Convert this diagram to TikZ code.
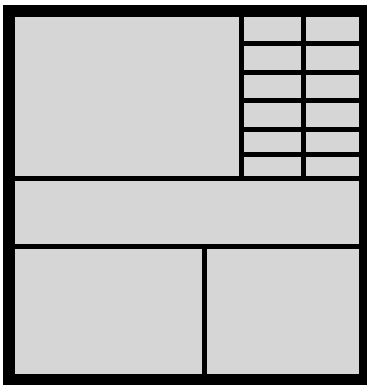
\documentclass[tikz,border=0pt]{standalone}
\definecolor{panelgray}{RGB}{214,214,214}
\tikzset{
  frame/.style={fill=black},
  panel/.style={fill=panelgray},
  bar/.style={fill=black}
}
\begin{document}
\begin{tikzpicture}[x=1pt,y=-1pt]
\useasboundingbox (0,0) rectangle (367,385);
\fill[white] (0,0) rectangle (367,385);
% outer frame
\fill[frame] (3,5) rectangle (367,385);
\fill[panel] (15,17) rectangle (359,374);
% top-right grid verticals
\fill[bar] (239,17) rectangle (244,176);
\fill[bar] (301,17) rectangle (306,176);
% top-right grid horizontals
\foreach \y in {41,70,98,127,152}{
  \fill[bar] (244,\y) rectangle (359,\y+5);
}
% full-width horizontals
\fill[bar] (15,176) rectangle (359,181);
\fill[bar] (15,244) rectangle (359,249);
% bottom vertical
\fill[bar] (202,249) rectangle (207,374);
\end{tikzpicture}
\end{document}
